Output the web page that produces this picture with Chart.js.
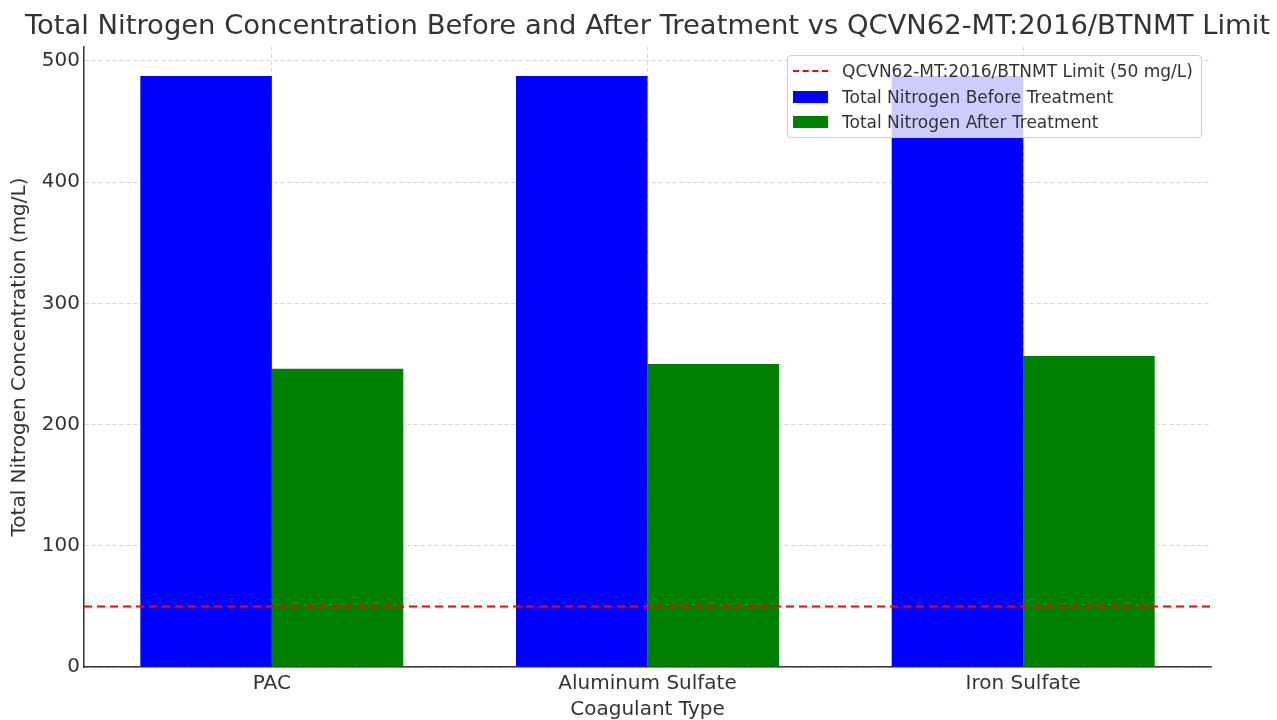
<!DOCTYPE html>
<html>
<head>
<meta charset="utf-8">
<script src="https://cdn.jsdelivr.net/npm/chart.js@4.4.1/dist/chart.umd.min.js"></script>
<style>
  html, body { margin: 0; padding: 0; background: #fff; }
  #wrap { position: relative; width: 1277px; height: 720px; }
  #legend {
    position: absolute; left: 787px; top: 55px; width: 415px; height: 83px;
    border: 1px solid #ccc; border-radius: 4px; background: rgba(255,255,255,0.8);
    font-family: "DejaVu Sans", sans-serif; font-size: 17px; color: #333;
    box-sizing: border-box;
  }
  .item { position: absolute; left: 5px; height: 20px; display: flex; align-items: center; }
  .item span { margin-left: 14px; white-space: nowrap; }
  .dash { width: 35px; height: 0; border-top: 2px dashed red; }
  .patch { width: 35px; height: 12px; }
</style>
</head>
<body>
<div id="wrap">
  <canvas id="myChart" width="1277" height="720"></canvas>
  <div id="legend"></div>
</div>
<script>
const categories = ['PAC', 'Aluminum Sulfate', 'Iron Sulfate'];
const before = [487.5, 487.5, 487.5];
const after = [246, 250, 256.5];
const limitValue = 50;
const yTicks = [0, 100, 200, 300, 400, 500];

const titleText = 'Total Nitrogen Concentration Before and After Treatment vs QCVN62-MT:2016/BTNMT Limit';
const limitLabel = 'QCVN62-MT:2016/BTNMT Limit (50 mg/L)';
const beforeLabel = 'Total Nitrogen Before Treatment';
const afterLabel = 'Total Nitrogen After Treatment';

const font = 'DejaVu Sans';
const ctx = document.getElementById('myChart');

// title centred over the axes, and the limit line across the whole plot
const extras = {
  id: 'extras',
  afterDatasetsDraw(chart) {
    const { ctx, chartArea, scales } = chart;
    const y = scales.y.getPixelForValue(limitValue);
    ctx.save();
    ctx.strokeStyle = 'red';
    ctx.lineWidth = 2;
    ctx.setLineDash([8, 5]);
    ctx.beginPath();
    ctx.moveTo(chartArea.left, y);
    ctx.lineTo(chartArea.right, y);
    ctx.stroke();
    ctx.restore();
  },
  afterDraw(chart) {
    const { ctx, chartArea } = chart;
    ctx.save();
    ctx.fillStyle = '#333';
    ctx.font = '27.4px "DejaVu Sans"';
    ctx.textAlign = 'center';
    ctx.textBaseline = 'middle';
    ctx.fillText(titleText, (chartArea.left + chartArea.right) / 2, 27);
    ctx.restore();
  },
};

const myChart = new Chart(ctx, {
  type: 'bar',
  data: {
    labels: categories,
    datasets: [
      {
        label: beforeLabel,
        data: before,
        backgroundColor: 'blue',
        borderWidth: 0,
      },
      {
        label: afterLabel,
        data: after,
        backgroundColor: 'green',
        borderWidth: 0,
      },
    ],
  },
  options: {
    responsive: false,
    animation: false,
    categoryPercentage: 0.7,
    barPercentage: 1.0,
    layout: { padding: { left: 0, right: 66, top: 47, bottom: 0 } },
    plugins: {
      legend: { display: false },
      tooltip: { enabled: false },
      title: { display: false },
    },
    scales: {
      x: {
        grid: {
          display: true,
          offset: false,
          color: '#ccc',
          lineWidth: 0.8,
          drawTicks: false,
        },
        border: { display: true, color: '#333', width: 1.5, dash: [4, 3] },
        ticks: { color: '#333', font: { family: font, size: 20 }, padding: 5 },
        title: {
          display: true,
          text: 'Coagulant Type',
          color: '#333',
          font: { family: font, size: 20, lineHeight: 1.0 },
          padding: { top: 0, bottom: 0 },
        },
        afterFit: (s) => { s.height = 53; },
      },
      y: {
        min: 0,
        max: 511.5,
        grid: { color: '#ccc', lineWidth: 0.8, drawTicks: false },
        border: { display: true, color: '#333', width: 1.5, dash: [4, 3] },
        ticks: {
          color: '#333',
          font: { family: font, size: 20 },
          padding: 4,
        },
        afterBuildTicks: (s) => { s.ticks = yTicks.map(v => ({ value: v })); },
        title: {
          display: true,
          text: 'Total Nitrogen Concentration (mg/L)',
          color: '#333',
          font: { family: font, size: 20 },
          padding: { top: 8, bottom: 0 },
        },
        afterFit: (s) => { s.width = 84; },
      },
    },
  },
  plugins: [extras],
});

// legend, built from the same labels and colours
const legendItems = [
  { label: limitLabel, line: 'red' },
  { label: beforeLabel, color: 'blue' },
  { label: afterLabel, color: 'green' },
];
const legend = document.getElementById('legend');
legendItems.forEach((it, i) => {
  const item = document.createElement('div');
  item.className = 'item';
  item.style.top = (5 + i * 25.5) + 'px';
  const mark = document.createElement('div');
  if (it.line) {
    mark.className = 'dash';
  } else {
    mark.className = 'patch';
    mark.style.background = it.color;
  }
  const label = document.createElement('span');
  label.textContent = it.label;
  item.appendChild(mark);
  item.appendChild(label);
  legend.appendChild(item);
});
</script>
</body>
</html>
